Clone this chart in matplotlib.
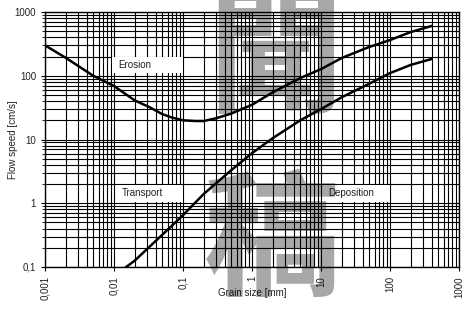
import numpy as np
import matplotlib.pyplot as plt
from matplotlib.patches import Rectangle

# Hjulstrom diagram
grain_erosion = [0.001, 0.002, 0.005, 0.01, 0.02, 0.033, 0.05, 0.07, 0.1, 0.15,
                 0.2, 0.3, 0.5, 1, 2, 5, 10, 20, 50, 100, 200, 400]
speed_erosion = [300, 191, 100, 69, 41, 32, 25, 22, 20, 19.5,
                 19.5, 21.5, 25.5, 35, 55, 92, 127, 190, 283, 363, 485, 603]

grain_depo = [0.015, 0.02, 0.05, 0.1, 0.2, 0.5, 1, 2, 5, 10,
              20, 50, 100, 200, 400]
speed_depo = [0.1, 0.126, 0.32, 0.65, 1.4, 3.3, 6.1, 10.5, 20, 30,
              46, 75, 110, 148, 183]

xticks = [0.001, 0.01, 0.1, 1, 10, 100, 1000]
xticklabels = ["0,001", "0,01", "0,1", "1", "10", "100", "1000"]
yticks = [0.1, 1, 10, 100, 1000]
yticklabels = ["0,1", "1", "10", "100", "1000"]

plt.rcParams['font.family'] = ['Liberation Sans', 'DejaVu Sans']

fig = plt.figure(figsize=(4.73, 3.09), dpi=100)
ax = fig.add_axes([45/473, 42/309, 414/473, 255/309])
ax.set_xscale('log')
ax.set_yscale('log')
ax.set_xlim(0.001, 1000)
ax.set_ylim(0.1, 1000)

ax.grid(True, which='both', color='black', lw=0.8)
ax.set_axisbelow(True)

ax.plot(grain_erosion, speed_erosion, color='black', lw=1.8, zorder=4)
ax.plot(grain_depo, speed_depo, color='black', lw=1.8, zorder=4)

ax.set_xticks(xticks)
ax.set_xticklabels(xticklabels, rotation=90)
ax.set_yticks(yticks)
ax.set_yticklabels(yticklabels)
ax.xaxis.set_minor_formatter(plt.NullFormatter())
ax.yaxis.set_minor_formatter(plt.NullFormatter())
ax.tick_params(which='major', labelsize=7, labelcolor='#222222', length=3, width=0.8)
ax.tick_params(which='minor', length=2, width=0.6)
ax.tick_params(axis='x', which='minor', length=0)
for s in ax.spines.values():
    s.set_linewidth(1)

ax.set_xlabel("Grain size [mm]", fontsize=7, color='#222222')
ax.xaxis.set_label_coords(0.5, -0.082)
ax.set_ylabel("Flow speed [cm/s]", fontsize=7, color='#222222')
ax.yaxis.set_label_coords(-0.066, 0.5)

# label boxes
boxes = [("Erosion", 0.162, 0.761, 0.171, 0.063, 0.176),
         ("Transport", 0.174, 0.255, 0.159, 0.067, 0.186),
         ("Deposition", 0.671, 0.255, 0.162, 0.067, 0.684)]
for txt, bx, by, bw, bh, tx in boxes:
    ax.add_patch(Rectangle((bx, by), bw, bh, transform=ax.transAxes,
                           facecolor='white', edgecolor='none', zorder=3))
    ax.text(tx, by + bh/2, txt, transform=ax.transAxes, fontsize=7,
            color='#222222', va='center', ha='left', zorder=3.5)

# watermark
fig.text(275/473, 1 - 62/309, "聞", fontsize=98, ha='center', va='center',
         color='black', alpha=0.34, family=['Noto Sans CJK TC', 'DejaVu Sans'],
         weight='bold', zorder=10)
fig.text(272/473, 1 - 245/309, "稿", fontsize=98, ha='center', va='center',
         color='black', alpha=0.34, family=['Noto Sans CJK TC', 'DejaVu Sans'],
         weight='bold', zorder=10)

fig.savefig("out.png", dpi=100)
